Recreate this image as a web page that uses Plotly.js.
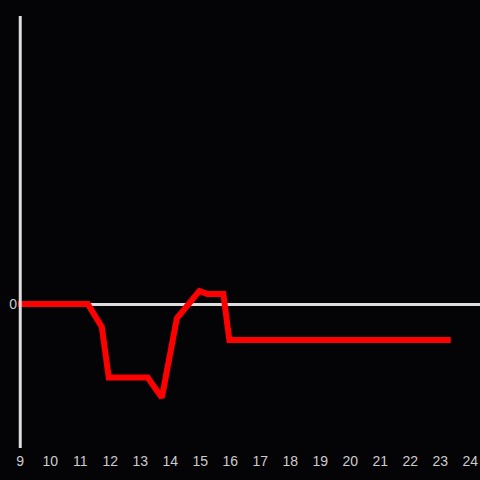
<!DOCTYPE html>
<html>
<head>
<meta charset="utf-8">
<script src="https://cdn.plot.ly/plotly-3.0.1.min.js"></script>
<style>html,body{margin:0;padding:0;background:#040306;}#chart{width:480px;height:480px;}</style>
</head>
<body>
<div id="chart"></div>
<script>
const hours = [8.9, 11.25, 11.72, 11.95, 13.25, 13.72, 14.22, 14.68, 14.97, 15.23, 15.77, 15.97, 23.35];
const values = [0, 0, -0.16, -0.51, -0.51, -0.65, -0.1, 0.01, 0.09, 0.07, 0.07, -0.25, -0.25];
const xTicks = [9,10,11,12,13,14,15,16,17,18,19,20,21,22,23,24];

Plotly.newPlot('chart', [{
  x: hours, y: values, type: 'scatter', mode: 'lines',
  line: {color: '#ff0000', width: 6},
  hoverinfo: 'skip'
}], {
  width: 480, height: 480,
  paper_bgcolor: '#040306', plot_bgcolor: '#040306',
  margin: {l: 18, r: 0, t: 16, b: 32},
  showlegend: false,
  font: {family: 'Liberation Sans, Arial, sans-serif', size: 14, color: '#cccccc'},
  xaxis: {
    range: [8.925, 24.325], tickvals: xTicks, ticktext: xTicks.map(String),
    showgrid: false, zeroline: false, showline: false, ticks: '',
    ticklabelstandoff: 3,
    tickfont: {size: 14, color: '#cccccc'}
  },
  yaxis: {
    range: [-1, 2], tickvals: [0], ticktext: ['0'],
    showgrid: false, zeroline: true, zerolinecolor: '#dddddd', zerolinewidth: 3,
    showline: false, ticks: '',
    tickfont: {size: 14, color: '#cccccc'}
  },
  shapes: [{
    type: 'line', xref: 'x', yref: 'paper', x0: 9, x1: 9, y0: 0, y1: 1,
    line: {color: '#dddddd', width: 3}, layer: 'above'
  }]
}, {displayModeBar: false, staticPlot: true});
</script>
</body>
</html>
